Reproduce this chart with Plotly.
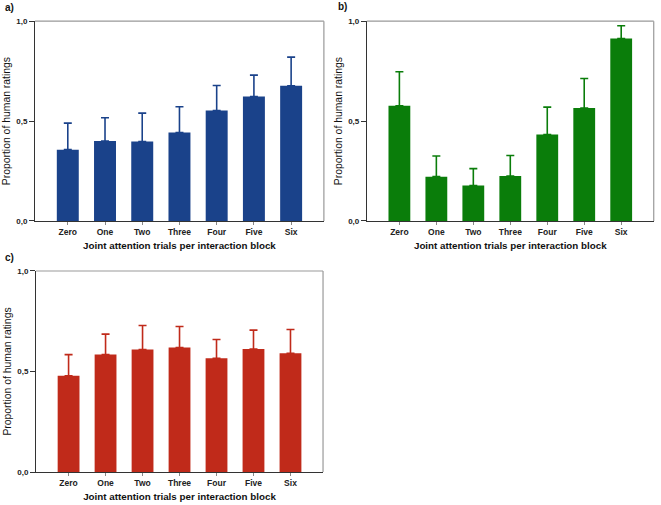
import plotly.graph_objects as go

categories = ["Zero", "One", "Two", "Three", "Four", "Five", "Six"]

means_a = [0.357, 0.400, 0.398, 0.443, 0.553, 0.623, 0.677]
errs_a = [0.133, 0.117, 0.142, 0.129, 0.125, 0.107, 0.143]

means_b = [0.577, 0.222, 0.178, 0.225, 0.433, 0.565, 0.913]
errs_b = [0.170, 0.103, 0.084, 0.103, 0.137, 0.148, 0.064]

means_c = [0.479, 0.584, 0.609, 0.619, 0.566, 0.612, 0.591]
errs_c = [0.105, 0.102, 0.120, 0.105, 0.093, 0.094, 0.118]

y_tickvals = [0, 0.5, 1.0]
y_ticktext = ["0,0", "0,5", "1,0"]

panels = [
    dict(name="a)", means=means_a, errs=errs_a, color="#1a428a",
         xd=[0.053, 0.490], yd=[0.5624, 0.958], lab=(0.004, 0.986)),
    dict(name="b)", means=means_b, errs=errs_b, color="#0a7d0a",
         xd=[0.555, 0.989], yd=[0.5624, 0.958], lab=(0.509, 0.988)),
    dict(name="c)", means=means_c, errs=errs_c, color="#c02a1a",
         xd=[0.0545, 0.4887], yd=[0.0653, 0.4634], lab=(0.004, 0.491)),
]

FONT = "Arial, 'Liberation Sans', sans-serif"

fig = go.Figure()
annotations = []
shapes = []
for i, p in enumerate(panels):
    n = "" if i == 0 else str(i + 1)
    xa = "x" + n
    ya = "y" + n
    fig.add_trace(go.Bar(
        x=categories, y=p["means"],
        marker=dict(color=p["color"], line=dict(width=0)),
        error_y=dict(type="data", array=p["errs"], symmetric=False,
                     arrayminus=[0] * len(p["errs"]),
                     color=p["color"], thickness=1.6, width=4),
        xaxis=xa, yaxis=ya, showlegend=False,
    ))
    xkey = "xaxis" + n
    ykey = "yaxis" + n
    fig.update_layout(**{
        xkey: dict(domain=p["xd"], anchor=ya, range=[-0.88, 6.88], automargin=False,
                   showline=True, linecolor="#333333", linewidth=1,
                   ticks="outside", ticklen=3, tickcolor="#888888",
                   showgrid=False, zeroline=False,
                   tickfont=dict(family=FONT, size=8.5, color="#222222"),
                   title=dict(text="<b>Joint attention trials per interaction block</b>",
                              font=dict(family=FONT, size=9.8, color="#111111"),
                              standoff=5)),
        ykey: dict(domain=p["yd"], anchor=xa, range=[0, 1.0], automargin=False,
                   showline=True, linecolor="#333333", linewidth=1,
                   ticks="outside", ticklen=5, tickcolor="#333333",
                   tickvals=y_tickvals, ticktext=["<b>%s</b>" % t for t in y_ticktext],
                   showgrid=False, zeroline=False,
                   tickfont=dict(family=FONT, size=8, color="#222222"),
                   title=dict(text="Proportion of human ratings",
                              font=dict(family=FONT, size=10.4, color="#111111"),
                              standoff=3)),
    })
    fig.layout[xkey].tickvals = categories
    fig.layout[xkey].ticktext = ["<b>%s</b>" % c for c in categories]
    shapes.append(dict(type="line", xref=xa + " domain", yref=ya + " domain",
                       x0=0, x1=1, y0=1, y1=1, line=dict(color="#999999", width=1.2)))
    shapes.append(dict(type="line", xref=xa + " domain", yref=ya + " domain",
                       x0=1, x1=1, y0=0, y1=1, line=dict(color="#999999", width=1.2)))
    annotations.append(dict(text="<b>%s</b>" % p["name"], xref="paper", yref="paper",
                            x=p["lab"][0], y=p["lab"][1],
                            xanchor="left", yanchor="middle", showarrow=False,
                            font=dict(family=FONT, size=10, color="#111111")))

fig.update_layout(
    width=661, height=505,
    margin=dict(l=0, r=0, t=0, b=0, autoexpand=False),
    paper_bgcolor="white", plot_bgcolor="white",
    bargap=0.41,
    annotations=annotations, shapes=shapes,
)

fig.write_html(
    "out.html",
    config={"displayModeBar": False},
    post_script="document.body.style.margin='0';document.body.style.overflow='hidden';",
)
